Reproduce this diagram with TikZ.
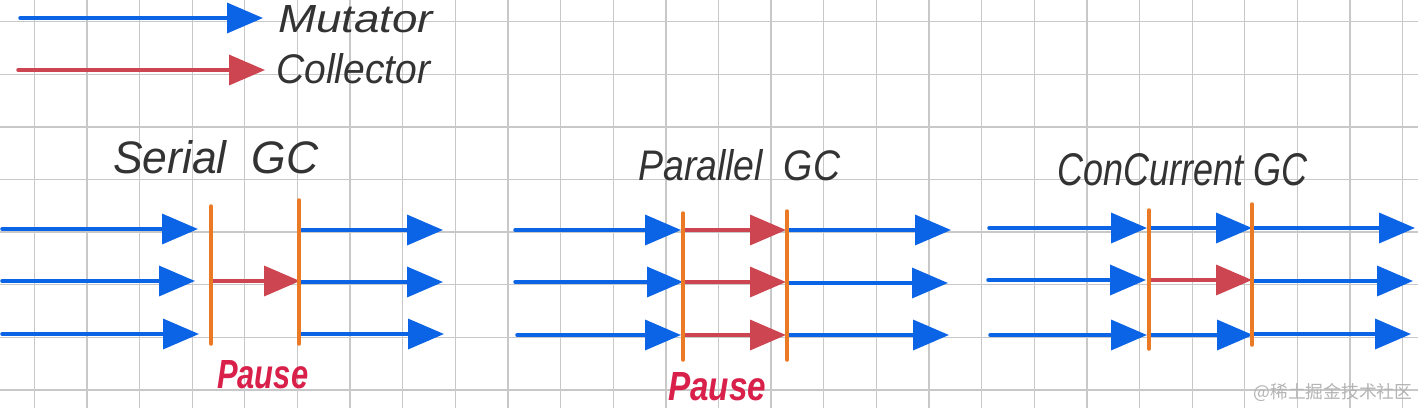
\documentclass[tikz,border=0pt]{standalone}
\usepackage{fontspec}
\setmainfont{Liberation Sans}
\newfontfamily\cjkfont{Noto Sans CJK SC}
\usetikzlibrary{arrows.meta}
\definecolor{mutblue}{HTML}{0B63E5}
\definecolor{colred}{HTML}{CC4550}
\definecolor{barorange}{HTML}{EA7A26}
\definecolor{inkgray}{HTML}{333333}
\definecolor{pausered}{HTML}{D8204A}
\definecolor{gridgray}{HTML}{C8C8C8}
\definecolor{wmgray}{HTML}{B4B4B4}
\begin{document}
\begin{tikzpicture}[x=1pt,y=-1pt,
  mut/.style={draw=mutblue,line width=3.5pt,line cap=round,-{Triangle[length=36pt,width=30pt]}},
  col/.style={draw=colred,line width=3.5pt,line cap=round,-{Triangle[length=36pt,width=30pt]}},
  bar/.style={draw=barorange,line width=3.5pt,line cap=round},
  hand/.style={inner sep=0pt,anchor=base west,text=inkgray,font=\fontsize{36}{40}\selectfont\itshape},
  pause/.style={inner sep=0pt,anchor=base west,text=pausered,font=\fontsize{30}{34}\selectfont\bfseries\itshape}]
\useasboundingbox (0,0) rectangle (1418,408);
\clip (0,0) rectangle (1418,408);
\fill[white] (0,0) rectangle (1418,408);
% grid
\foreach \k in {0,...,26} \draw[gridgray,line width=1.3pt] ({34.3+52.63*\k},0) -- ({34.3+52.63*\k},408);
\foreach \k in {0,...,7} \draw[gridgray,line width=1.3pt] (0,{21.7+52.6*\k}) -- (1418,{21.7+52.6*\k});

% legend
\coordinate (m0) at (20,18); \coordinate (m1) at (263,18);
\coordinate (c0) at (18,70); \coordinate (c1) at (265,70);
\draw[mut] (m0) -- (m1);
\draw[col] (c0) -- (c1);
\node[hand] (mutl) at (278,32) {\resizebox{155pt}{27pt}{Mutator}};
\node[hand] (coll) at (276,83) {\resizebox{154pt}{30pt}{Collector}};

% ===== Serial GC =====
\node[hand] (serialt) at (113,173) {\resizebox{205pt}{33pt}{Serial\ \ GC}};
\coordinate (sa0) at (2,229);  \coordinate (sa1) at (198,229);
\coordinate (sb0) at (2,281);  \coordinate (sb1) at (195,281);
\coordinate (sc0) at (2,334);  \coordinate (sc1) at (199,334);
\coordinate (sp1t) at (211,206); \coordinate (sp1b) at (211,344);
\coordinate (sp2t) at (299,200); \coordinate (sp2b) at (299,344);
\coordinate (sr0) at (211,281); \coordinate (sr1) at (300,281);
\coordinate (sd0) at (300,230); \coordinate (sd1) at (443,230);
\coordinate (se0) at (300,282); \coordinate (se1) at (443,282);
\coordinate (sf0) at (301,334); \coordinate (sf1) at (444,334);
\draw[mut] (sa0) -- (sa1);
\draw[mut] (sb0) -- (sb1);
\draw[mut] (sc0) -- (sc1);
\draw[col] (sr0) -- (sr1);
\draw[mut] (sd0) -- (sd1);
\draw[mut] (se0) -- (se1);
\draw[mut] (sf0) -- (sf1);
\draw[bar] (sp1t) -- (sp1b);
\draw[bar] (sp2t) -- (sp2b);
\node[pause] (pause1) at (217,388) {\resizebox{91pt}{28pt}{Pause}};

% ===== Parallel GC =====
\node[hand] (parallelt) at (638,180) {\resizebox{202pt}{31pt}{Parallel\ \ GC}};
\coordinate (pa0) at (515,230); \coordinate (pa1) at (681,230);
\coordinate (pb0) at (515,282); \coordinate (pb1) at (683,282);
\coordinate (pc0) at (517,335); \coordinate (pc1) at (681,335);
\coordinate (pp1t) at (683,213); \coordinate (pp1b) at (683,360);
\coordinate (pp2t) at (787,211); \coordinate (pp2b) at (787,360);
\coordinate (pra0) at (683,230); \coordinate (pra1) at (786,230);
\coordinate (prb0) at (683,282); \coordinate (prb1) at (786,282);
\coordinate (prc0) at (683,335); \coordinate (prc1) at (786,335);
\coordinate (pd0) at (788,230); \coordinate (pd1) at (951,230);
\coordinate (pe0) at (788,283); \coordinate (pe1) at (948,283);
\coordinate (pf0) at (788,335); \coordinate (pf1) at (949,335);
\draw[mut] (pa0) -- (pa1);
\draw[mut] (pb0) -- (pb1);
\draw[mut] (pc0) -- (pc1);
\draw[col] (pra0) -- (pra1);
\draw[col] (prb0) -- (prb1);
\draw[col] (prc0) -- (prc1);
\draw[mut] (pd0) -- (pd1);
\draw[mut] (pe0) -- (pe1);
\draw[mut] (pf0) -- (pf1);
\draw[bar] (pp1t) -- (pp1b);
\draw[bar] (pp2t) -- (pp2b);
\node[pause] (pause2) at (668,400) {\resizebox{98pt}{28pt}{Pause}};

% ===== Concurrent GC =====
\node[hand] (concurrentt) at (1057,185) {\resizebox{250pt}{32pt}{ConCurrent\ GC}};
\coordinate (ca0) at (989,228);  \coordinate (ca1) at (1147,228);
\coordinate (cb0) at (988,280);  \coordinate (cb1) at (1146,280);
\coordinate (cc0) at (990,335);  \coordinate (cc1) at (1147,335);
\coordinate (cp1t) at (1149,210); \coordinate (cp1b) at (1149,349);
\coordinate (cp2t) at (1252,204); \coordinate (cp2b) at (1252,345);
\coordinate (cm0) at (1149,228); \coordinate (cm1) at (1252,228);
\coordinate (cr0) at (1149,280); \coordinate (cr1) at (1252,280);
\coordinate (cn0) at (1149,335); \coordinate (cn1) at (1253,335);
\coordinate (cd0) at (1253,228); \coordinate (cd1) at (1415,228);
\coordinate (ce0) at (1253,281); \coordinate (ce1) at (1413,281);
\coordinate (cf0) at (1253,334); \coordinate (cf1) at (1411,334);
\draw[mut] (ca0) -- (ca1);
\draw[mut] (cb0) -- (cb1);
\draw[mut] (cc0) -- (cc1);
\draw[mut] (cm0) -- (cm1);
\draw[col] (cr0) -- (cr1);
\draw[mut] (cn0) -- (cn1);
\draw[mut] (cd0) -- (cd1);
\draw[mut] (ce0) -- (ce1);
\draw[mut] (cf0) -- (cf1);
\draw[bar] (cp1t) -- (cp1b);
\draw[bar] (cp2t) -- (cp2b);

% watermark
\node[inner sep=0pt,text=wmgray,anchor=center] (wm) at (1333,392) {\resizebox{159pt}{!}{\cjkfont @稀土掘金技术社区}};
\end{tikzpicture}
\end{document}
